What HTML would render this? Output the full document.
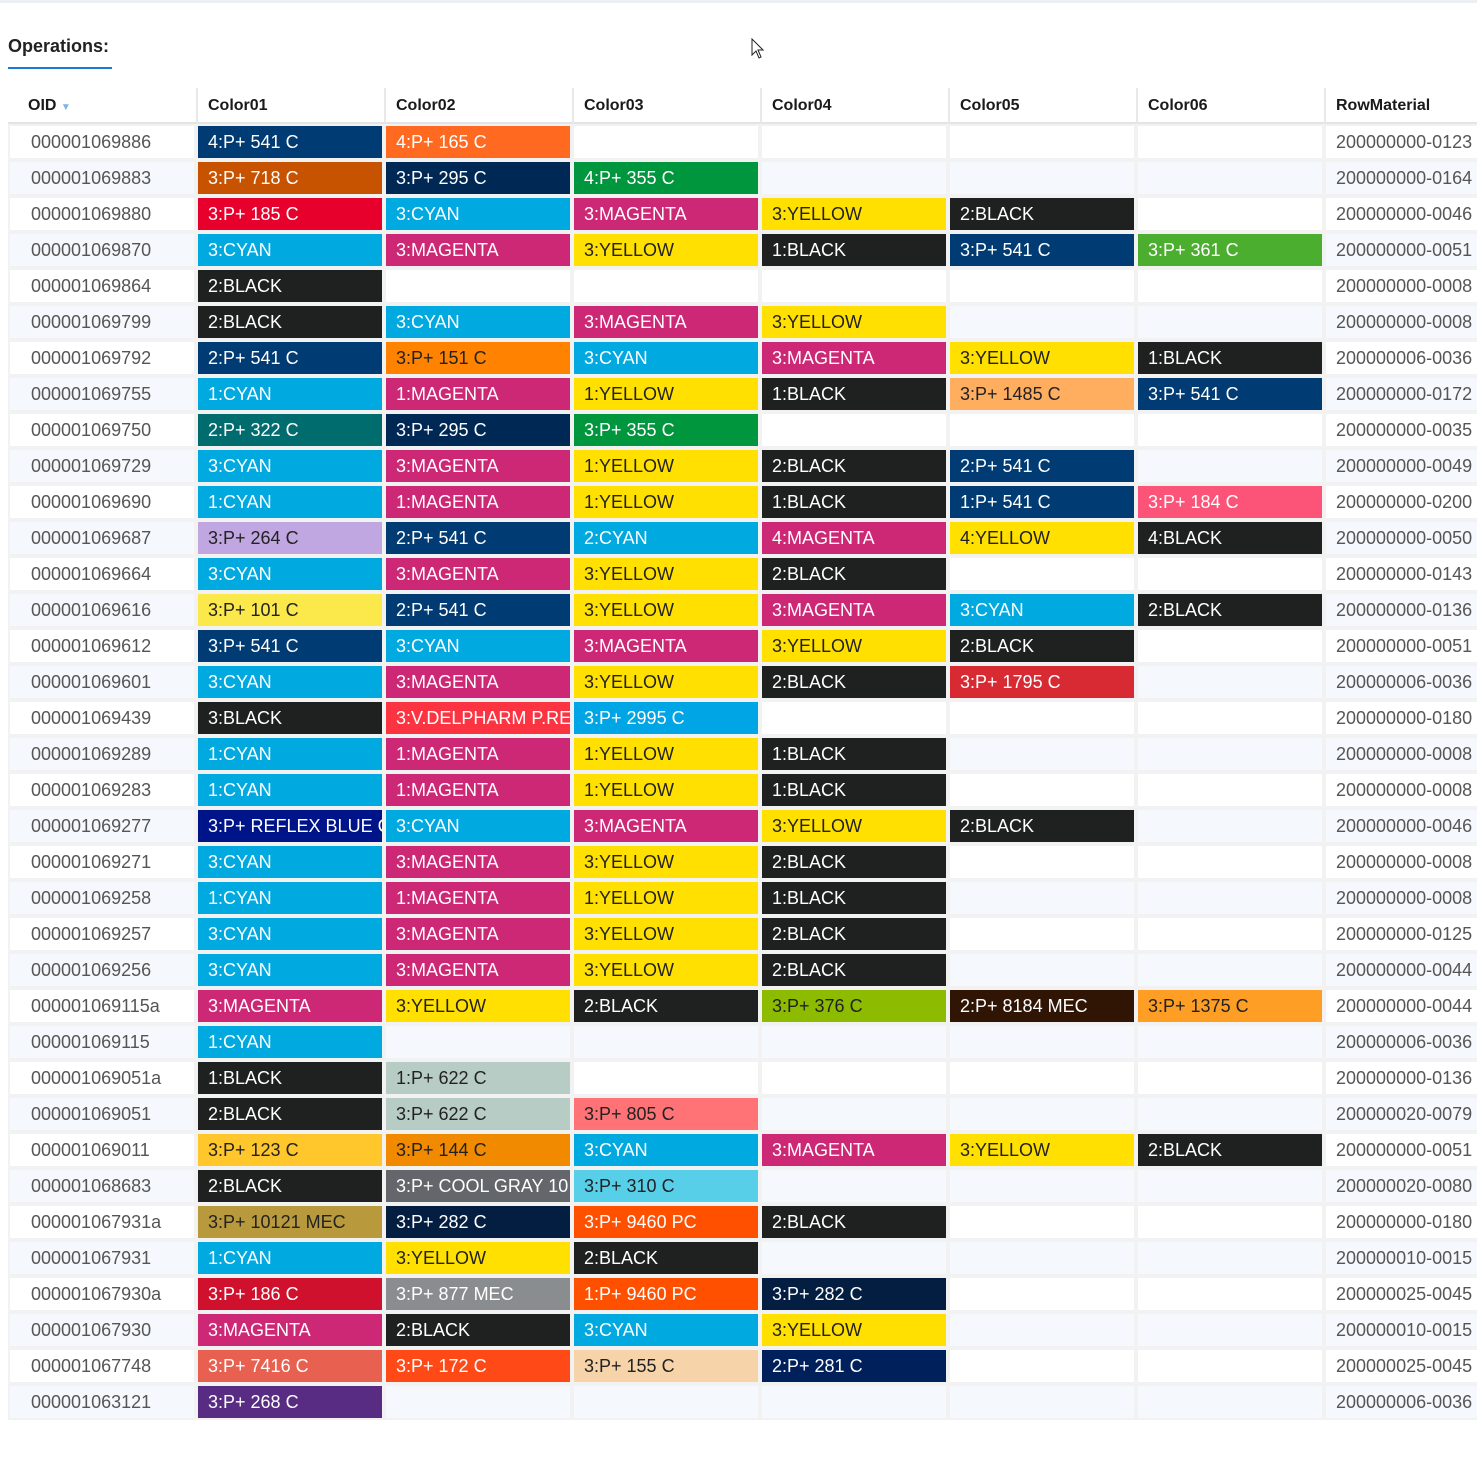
<!DOCTYPE html>
<html><head><meta charset="utf-8"><style>
body{margin:0;width:1477px;height:1477px;background:#fff;font-family:"Liberation Sans",Arial,sans-serif;position:relative;overflow:hidden}
#topbar{position:absolute;left:0;top:0;width:1477px;height:3px;background:#eceff3}
#title{position:absolute;left:8px;top:36px;font-size:18px;font-weight:bold;color:#222}
#uline{position:absolute;left:8px;top:67px;width:104px;height:2px;background:#1a7ad4}
#grid{position:absolute;left:8px;top:124px;width:1469px;height:1296px;background:#f2f2f2}
.h{position:absolute;top:88px;height:35px;font-size:16px;font-weight:bold;color:#1a1a1a;line-height:36px;border-left:2px solid #e8e8e8;box-sizing:border-box}
#hline{position:absolute;left:8px;top:122px;width:1469px;height:2px;background:#e4e4e4}
.c{position:absolute;height:32px;line-height:32px;font-size:18px;white-space:nowrap;overflow:hidden;box-sizing:border-box}
</style></head><body>
<div id="topbar"></div>
<div id="title">Operations:</div>
<div id="uline"></div>
<div id="grid"></div>
<div id="hline"></div>
<script>
const headers=["OID","Color01","Color02","Color03","Color04","Color05","Color06","RowMaterial"];
const oids=["000001069886","000001069883","000001069880","000001069870","000001069864","000001069799","000001069792","000001069755","000001069750","000001069729","000001069690","000001069687","000001069664","000001069616","000001069612","000001069601","000001069439","000001069289","000001069283","000001069277","000001069271","000001069258","000001069257","000001069256","000001069115a","000001069115","000001069051a","000001069051","000001069011","000001068683","000001067931a","000001067931","000001067930a","000001067930","000001067748","000001063121"];
const materials=["200000000-0123","200000000-0164","200000000-0046","200000000-0051","200000000-0008","200000000-0008","200000006-0036","200000000-0172","200000000-0035","200000000-0049","200000000-0200","200000000-0050","200000000-0143","200000000-0136","200000000-0051","200000006-0036","200000000-0180","200000000-0008","200000000-0008","200000000-0046","200000000-0008","200000000-0008","200000000-0125","200000000-0044","200000000-0044","200000006-0036","200000000-0136","200000020-0079","200000000-0051","200000020-0080","200000000-0180","200000010-0015","200000025-0045","200000010-0015","200000025-0045","200000006-0036"];
const colorRows=[
["4:P+ 541 C","4:P+ 165 C"],
["3:P+ 718 C","3:P+ 295 C","4:P+ 355 C"],
["3:P+ 185 C","3:CYAN","3:MAGENTA","3:YELLOW","2:BLACK"],
["3:CYAN","3:MAGENTA","3:YELLOW","1:BLACK","3:P+ 541 C","3:P+ 361 C"],
["2:BLACK"],
["2:BLACK","3:CYAN","3:MAGENTA","3:YELLOW"],
["2:P+ 541 C","3:P+ 151 C","3:CYAN","3:MAGENTA","3:YELLOW","1:BLACK"],
["1:CYAN","1:MAGENTA","1:YELLOW","1:BLACK","3:P+ 1485 C","3:P+ 541 C"],
["2:P+ 322 C","3:P+ 295 C","3:P+ 355 C"],
["3:CYAN","3:MAGENTA","1:YELLOW","2:BLACK","2:P+ 541 C"],
["1:CYAN","1:MAGENTA","1:YELLOW","1:BLACK","1:P+ 541 C","3:P+ 184 C"],
["3:P+ 264 C","2:P+ 541 C","2:CYAN","4:MAGENTA","4:YELLOW","4:BLACK"],
["3:CYAN","3:MAGENTA","3:YELLOW","2:BLACK"],
["3:P+ 101 C","2:P+ 541 C","3:YELLOW","3:MAGENTA","3:CYAN","2:BLACK"],
["3:P+ 541 C","3:CYAN","3:MAGENTA","3:YELLOW","2:BLACK"],
["3:CYAN","3:MAGENTA","3:YELLOW","2:BLACK","3:P+ 1795 C"],
["3:BLACK","3:V.DELPHARM P.RED","3:P+ 2995 C"],
["1:CYAN","1:MAGENTA","1:YELLOW","1:BLACK"],
["1:CYAN","1:MAGENTA","1:YELLOW","1:BLACK"],
["3:P+ REFLEX BLUE C","3:CYAN","3:MAGENTA","3:YELLOW","2:BLACK"],
["3:CYAN","3:MAGENTA","3:YELLOW","2:BLACK"],
["1:CYAN","1:MAGENTA","1:YELLOW","1:BLACK"],
["3:CYAN","3:MAGENTA","3:YELLOW","2:BLACK"],
["3:CYAN","3:MAGENTA","3:YELLOW","2:BLACK"],
["3:MAGENTA","3:YELLOW","2:BLACK","3:P+ 376 C","2:P+ 8184 MEC","3:P+ 1375 C"],
["1:CYAN"],
["1:BLACK","1:P+ 622 C"],
["2:BLACK","3:P+ 622 C","3:P+ 805 C"],
["3:P+ 123 C","3:P+ 144 C","3:CYAN","3:MAGENTA","3:YELLOW","2:BLACK"],
["2:BLACK","3:P+ COOL GRAY 10 C","3:P+ 310 C"],
["3:P+ 10121 MEC","3:P+ 282 C","3:P+ 9460 PC","2:BLACK"],
["1:CYAN","3:YELLOW","2:BLACK"],
["3:P+ 186 C","3:P+ 877 MEC","1:P+ 9460 PC","3:P+ 282 C"],
["3:MAGENTA","2:BLACK","3:CYAN","3:YELLOW"],
["3:P+ 7416 C","3:P+ 172 C","3:P+ 155 C","2:P+ 281 C"],
["3:P+ 268 C"]
];
const swatch={"541 C":"#003b73","165 C":"#ff6a20","718 C":"#c75300","295 C":"#002855","355 C":"#00963e","185 C":"#e8002d","CYAN":"#01a9e1","MAGENTA":"#cd2876","YELLOW":"#ffe000","BLACK":"#1f2020","361 C":"#4cae2f","151 C":"#ff8200","1485 C":"#ffad5f","322 C":"#006c6e","184 C":"#fc5479","264 C":"#c1a7e2","101 C":"#fbe84a","1795 C":"#d82a33","V.DELPHARM P.RED":"#fc3441","2995 C":"#00a5e6","REFLEX BLUE C":"#001489","376 C":"#8dbb00","8184 MEC":"#301505","1375 C":"#ff9e24","622 C":"#b8ccc6","805 C":"#ff7276","123 C":"#ffc72c","144 C":"#f28a00","COOL GRAY 10 C":"#63666a","310 C":"#58cfe9","10121 MEC":"#b89a3c","282 C":"#041e42","9460 PC":"#ff5000","186 C":"#d0112d","877 MEC":"#8a8d8f","7416 C":"#e8604f","172 C":"#ff4a18","155 C":"#f6d3a8","281 C":"#00205b","268 C":"#582c83"};
const colX=[8,196,384,572,760,948,1136,1324];
const colW=[188,188,188,188,188,188,188,153];
const rowTop=124,rowH=36;
function slug(s){return s.toLowerCase().replace(/[^a-z0-9]+/g,'-').replace(/^-|-$/g,'');}
function colorOf(label){const k=label.replace(/^\d+:(P\+ )?/,'');return swatch[k]||'#888';}
function isLight(hex){const r=parseInt(hex.substr(1,2),16),g=parseInt(hex.substr(3,2),16),b=parseInt(hex.substr(5,2),16);return (0.299*r+0.587*g+0.114*b)>150;}
headers.forEach((h,i)=>{
  const d=document.createElement('div');d.className='h';
  
  
  d.style.left=colX[i]+'px';d.style.width=colW[i]+'px';
  d.style.paddingLeft=(i==0?20:10)+'px';
  if(i==0)d.style.borderLeft='none';
  d.innerHTML=h+(i==0?' <span style="color:#7fb2e8;font-size:10px;">&#9660;</span>':'');
  document.body.appendChild(d);
});
oids.forEach((oid,r)=>{
  const y=rowTop+r*rowH+2;
  const bg=r%2?'#f5f9fd':'#fff';
  for(let c=0;c<8;c++){
    const d=document.createElement('div');d.className='c';
    d.style.left=(colX[c]+2)+'px';d.style.top=y+'px';d.style.width=(colW[c]-4+(c==7?4:0))+'px';
    let txt='',fill=bg,fg='#555',pad=10;
    if(c==0){txt=oid;pad=21;}
    else if(c==7){txt=materials[r];pad=10;}
    else{const lab=colorRows[r][c-1];if(lab){txt=lab;fill=colorOf(lab);fg=isLight(fill)?'#222':'#fff';}}
    d.style.background=fill;d.style.color=fg;d.style.paddingLeft=pad+'px';
    d.textContent=txt;
    
    
    document.body.appendChild(d);
  }
});
</script>
<svg style="position:absolute;left:750px;top:38px" width="16" height="22"><path d="M2 1 L2 17 L6 13 L9 20 L11 19 L8 12 L13 12 Z" fill="#fff" stroke="#222" stroke-width="1"/></svg>
</body></html>
